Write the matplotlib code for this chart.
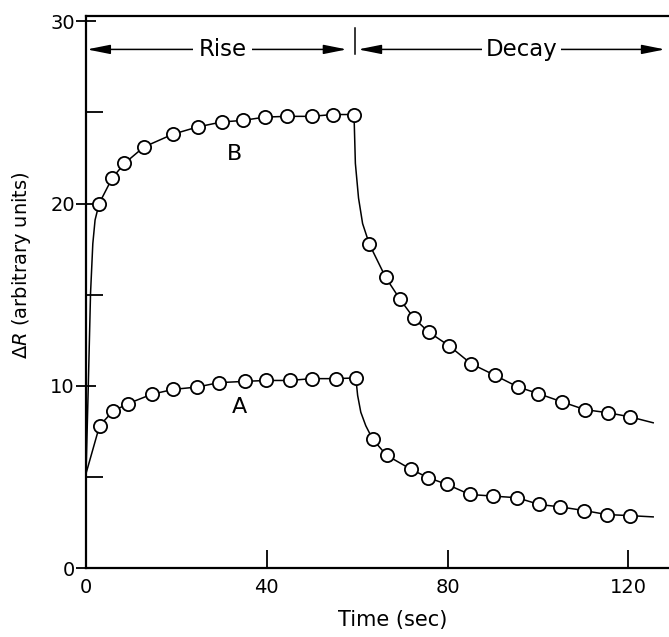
import numpy as np
import matplotlib
matplotlib.use("Agg")
import matplotlib.pyplot as plt

plt.rcParams['font.family'] = ['DejaVu Sans']
plt.rcParams['mathtext.fontset'] = 'dejavusans'

# ---- data ----
B_rise_t = [2.9, 5.8, 8.5, 12.8, 19.2, 24.7, 30.0, 34.8, 39.6, 44.5, 49.9, 54.6, 59.3]
B_rise_y = [20.0, 21.4, 22.2, 23.1, 23.8, 24.2, 24.47, 24.56, 24.74, 24.78, 24.78, 24.88, 24.88]
B_decay_t = [62.7, 66.3, 69.5, 72.6, 75.8, 80.4, 85.2, 90.5, 95.6, 100.1, 105.4, 110.4, 115.5, 120.3]
B_decay_y = [17.77, 15.95, 14.74, 13.70, 12.96, 12.19, 11.22, 10.58, 9.94, 9.58, 9.12, 8.70, 8.53, 8.31]

A_rise_t = [3.0, 5.9, 9.2, 14.5, 19.3, 24.6, 29.4, 35.1, 39.9, 45.1, 49.9, 55.4, 59.7]
A_rise_y = [7.82, 8.6, 9.02, 9.54, 9.81, 9.94, 10.18, 10.25, 10.3, 10.3, 10.4, 10.4, 10.44]
A_decay_t = [63.4, 66.5, 71.9, 75.7, 79.9, 84.9, 90.1, 95.4, 100.3, 104.9, 110.2, 115.2, 120.3]
A_decay_y = [7.09, 6.2, 5.43, 4.97, 4.6, 4.05, 3.96, 3.87, 3.5, 3.37, 3.17, 2.95, 2.89]

# fitted-curve segments
B_start_t = [0.0, 0.5, 1.0, 1.5, 2.0]
B_start_y = [5.2, 10.0, 15.1, 17.8, 19.1]
B_drop_t = [59.6, 60.3, 61.2]
B_drop_y = [22.2, 20.3, 18.9]
B_end_t = [125.5]
B_end_y = [7.98]

A_start_t = [0.0]
A_start_y = [5.2]
A_drop_t = [60.1, 60.8, 61.9]
A_drop_y = [9.48, 8.56, 7.82]
A_end_t = [125.5]
A_end_y = [2.82]

x_ticks = [0, 40, 80, 120]
x_ticklabels = ["0", "40", "80", "120"]
y_ticks = [0, 10, 20, 30]
y_ticklabels = ["0", "10", "20", "30"]
y_minor = [5, 15, 25]

fig = plt.figure(figsize=(6.69, 6.37), dpi=100)
ax = fig.add_axes([0.1286, 0.1078, 0.8714, 0.8676])
ax.set_xlim(0, 129)
ax.set_ylim(0, 30.3)

# curves
Bt = np.concatenate([B_start_t, B_rise_t, B_drop_t, B_decay_t, B_end_t])
By = np.concatenate([B_start_y, B_rise_y, B_drop_y, B_decay_y, B_end_y])
At = np.concatenate([A_start_t, A_rise_t, A_drop_t, A_decay_t, A_end_t])
Ay = np.concatenate([A_start_y, A_rise_y, A_drop_y, A_decay_y, A_end_y])
ax.plot(Bt, By, color='k', lw=1.1, zorder=2)
ax.plot(At, Ay, color='k', lw=1.1, zorder=2)

mk = dict(ls='none', marker='o', mfc='white', mec='k', ms=9.5, mew=1.3, zorder=3)
for t, y in [(B_rise_t, B_rise_y), (B_decay_t, B_decay_y),
             (A_rise_t, A_rise_y), (A_decay_t, A_decay_y)]:
    ax.plot(t, y, **mk)

ax.text(33.9, 8.86, 'A', fontsize=16, ha='center', va='center')
ax.text(32.8, 22.7, 'B', fontsize=16, ha='center', va='center')

# Rise / Decay arrows
ay = 28.45
aprops = dict(arrowstyle='<|-|>,head_length=1.4,head_width=0.28', color='k',
              lw=1.1, shrinkA=0, shrinkB=0, mutation_scale=10)
ax.annotate('', xy=(0.2, ay), xytext=(57.7, ay), arrowprops=aprops)
ax.annotate('', xy=(60.2, ay), xytext=(128.1, ay), arrowprops=aprops)
ax.text(30.2, ay, 'Rise', fontsize=16.5, ha='center', va='center',
        bbox=dict(fc='white', ec='none', pad=4))
ax.text(96.4, ay, 'Decay', fontsize=16.5, ha='center', va='center',
        bbox=dict(fc='white', ec='none', pad=2.5))
ax.plot([59.5, 59.5], [28.2, 29.65], color='k', lw=1.1)

# axes styling
ax.spines['right'].set_visible(False)
for s in ['left', 'bottom', 'top']:
    ax.spines[s].set_linewidth(1.6)

ax.set_xticks(x_ticks)
ax.set_xticklabels(x_ticklabels)
ax.set_yticks(y_ticks)
ax.set_yticklabels(y_ticklabels)
ax.set_yticks(y_minor, minor=True)
ax.tick_params(axis='x', direction='in', length=13, width=1.3, pad=7, labelsize=14)
ax.tick_params(axis='y', which='major', direction='inout', length=14, width=1.3,
               pad=1, labelsize=14)
ax.tick_params(axis='y', which='minor', direction='in', length=12, width=1.3)

ax.set_xlabel('Time (sec)', fontsize=15)
ax.xaxis.label.set_va('center')
ax.xaxis.set_label_coords(0.526, -0.0936)
ax.set_ylabel(r'$\Delta R$ (arbitrary units)', fontsize=14)
ax.yaxis.label.set_va('center')
ax.yaxis.set_label_coords(-0.11, 0.548)

fig.savefig('out.png', dpi=100)
